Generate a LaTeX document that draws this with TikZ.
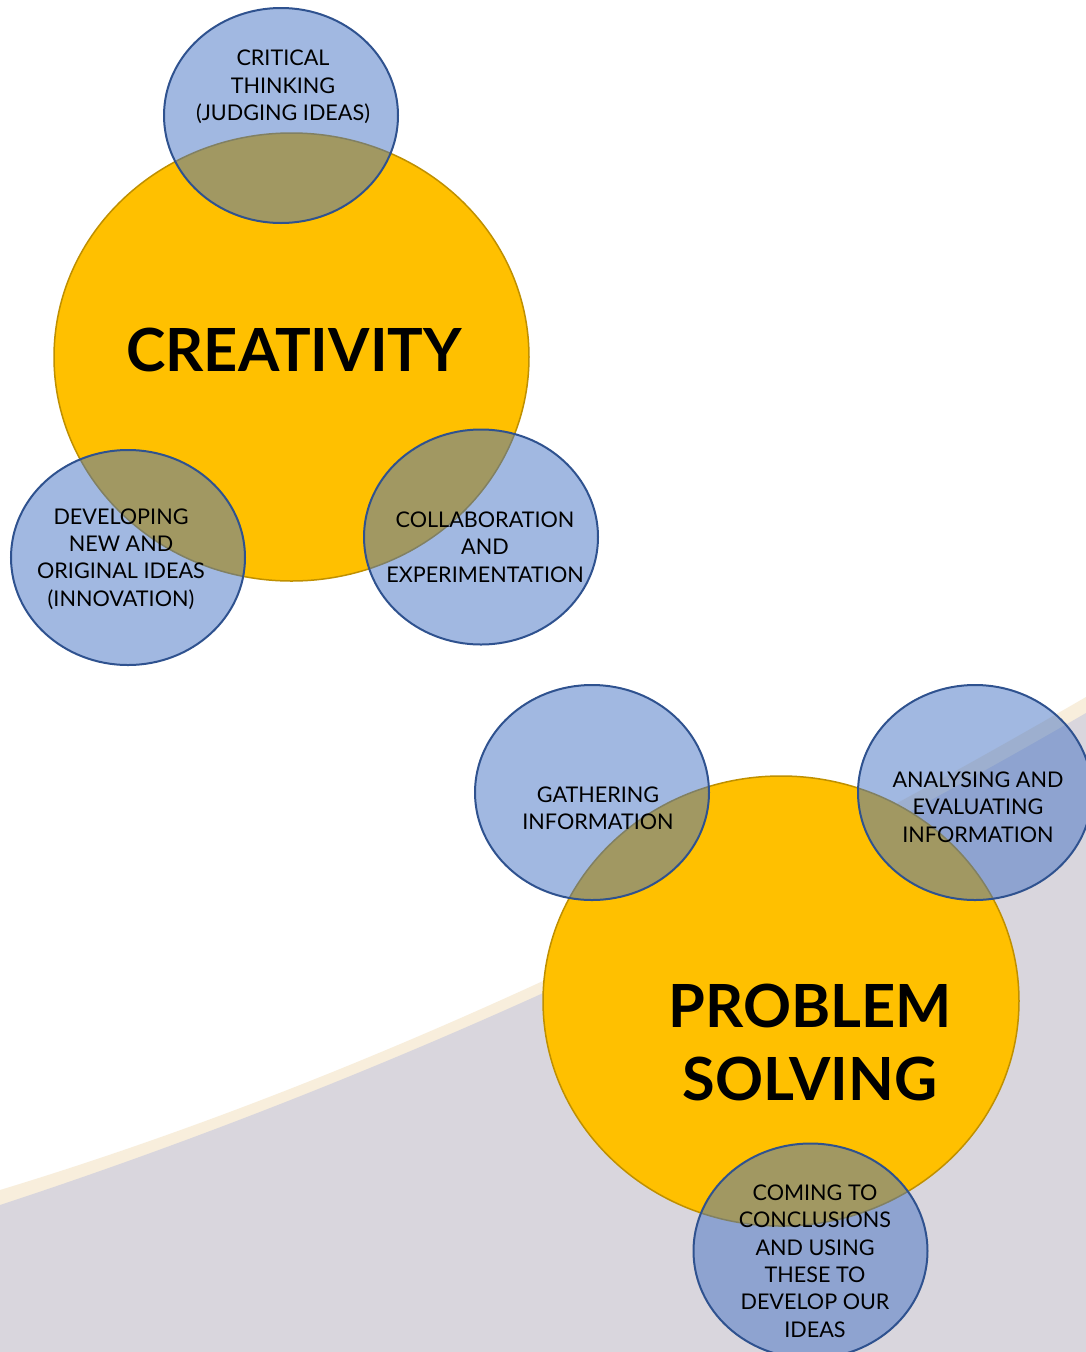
\documentclass[tikz,border=0pt]{standalone}
\usepackage{fontspec}
\setmainfont{Lato}
\usetikzlibrary{shapes.geometric}
\definecolor{sun}{HTML}{FFC000}
\definecolor{sunline}{HTML}{BF9000}
\definecolor{sky}{HTML}{4472C4}
\definecolor{skyline}{HTML}{2F528F}
\definecolor{mist}{HTML}{D9D6DD}
\definecolor{cream}{HTML}{F8EEDC}
\tikzset{core/.style={draw=sunline, fill=sun, ellipse, line width=1.5pt, inner sep=0pt}}
\tikzset{skill/.style={draw=skyline, fill=sky, fill opacity=0.5, ellipse, line width=2pt,
      minimum width=234pt, minimum height=215pt, inner sep=0pt}}
\tikzset{lbl/.style={align=center, font=\fontsize{21.6}{27.3}\selectfont, inner sep=0pt}}
\tikzset{ttl/.style={align=center, font=\fontsize{59.5}{73}\selectfont\bfseries, inner sep=0pt}}

\begin{document}
\begin{tikzpicture}[x=1pt, y=-1pt]
\useasboundingbox (0,0) rectangle (1086,1352);
\clip (0,0) rectangle (1086,1352);
\fill[white] (0,0) rectangle (1086,1352);

% background swoosh
\fill[cream] (0,1190) .. controls (362,1080) and (724,907) .. (1086,697)
  -- (1086,1352) -- (0,1352) -- cycle;
\fill[mist] (0,1205) .. controls (362,1086) and (724,923) .. (1086,713)
  -- (1086,1352) -- (0,1352) -- cycle;

% main circles
\node[core, minimum width=475pt, minimum height=448pt] (crea) at (291.5,357) {};
\node[core, minimum width=476pt, minimum height=450pt] (prob) at (781,1001) {};

% skill bubbles
\node[skill] (crit) at (281,115.5) {};
\node[skill] (innov) at (128,557.5) {};
\node[skill] (collab) at (481,537) {};
\node[skill] (gather) at (592,792.5) {};
\node[skill] (analyse) at (975,792.5) {};
\node[skill] (conclude) at (810.5,1251) {};

% texts
\node[ttl] (creaT) at (294,350) {CREATIVITY};
\node[ttl] (probT) at (810,1042) {PROBLEM\\SOLVING};
\node[lbl] (critT) at (283,87) {CRITICAL\\THINKING\\(JUDGING IDEAS)};
\node[lbl] (innovT) at (121,559) {DEVELOPING\\NEW AND\\ORIGINAL IDEAS\\(INNOVATION)};
\node[lbl] (collabT) at (485,547) {COLLABORATION\\AND\\EXPERIMENTATION};
\node[lbl] (gatherT) at (598,808) {GATHERING\\INFORMATION};
\node[lbl] (analyseT) at (978,807) {ANALYSING AND\\EVALUATING\\INFORMATION};
\node[lbl] (concludeT) at (815,1261) {COMING TO\\CONCLUSIONS\\AND USING\\THESE TO\\DEVELOP OUR\\IDEAS};
\end{tikzpicture}
\end{document}
